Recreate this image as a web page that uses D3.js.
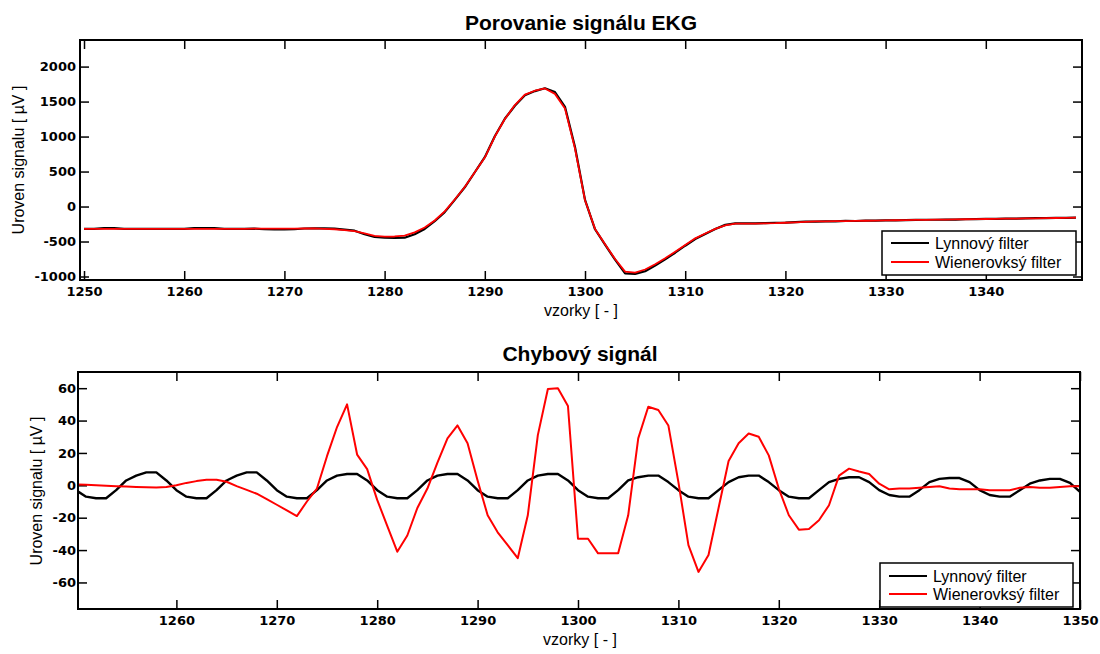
<!DOCTYPE html>
<html>
<head>
<meta charset="utf-8">
<script src="https://cdn.jsdelivr.net/npm/d3@7/dist/d3.min.js"></script>
<style>
  html, body { margin: 0; padding: 0; background: #fff; }
  svg { display: block; }
  .tick text { font-family: "DejaVu Sans", sans-serif; font-weight: bold; font-size: 13px; fill: #000; }
  .title { font-family: "Liberation Sans", Arial, sans-serif; font-weight: bold; font-size: 21px; }
  .alabel { font-family: "Liberation Sans", Arial, sans-serif; font-size: 16px; }
  .leg { font-family: "Liberation Sans", Arial, sans-serif; font-size: 16px; }
</style>
</head>
<body>
<svg id="chart" width="1100" height="654"></svg>
<script>
// ---------- DATA ----------
const startSample = 1250;
const seriesNames = ["Lynnový filter", "Wienerovksý filter"];
const seriesColors = ["#000000", "#ff0000"];

// Top panel: EKG signal [µV], samples 1250..1349
const ekgWiener = [
  -318,-318,-318,-319,-319,-320,-320,-320,-320,-320,
  -320,-320,-319,-319,-318,-318,-318,-317,-316,-316,
  -316,-315,-314,-313,-318,-325,-336,-352,-385,-418,
  -430,-428,-415,-370,-300,-200,-70,100,280,490,
  700,1000,1250,1450,1600,1655,1688,1610,1400,830,
  90,-320,-540,-750,-930,-945,-900,-825,-740,-645,
  -550,-455,-385,-320,-268,-245,-245,-243,-240,-238,
  -232,-225,-218,-213,-212,-210,-208,-205,-203,-200,
  -198,-196,-194,-192,-190,-188,-186,-184,-182,-180,
  -178,-176,-174,-172,-170,-168,-166,-164,-162,-158
];
const ekgLynn = [
  -318,-318,-310,-310,-319,-320,-320,-320,-320,-320,
  -320,-310,-310,-310,-318,-318,-318,-317,-325,-326,
  -326,-325,-314,-313,-312,-315,-330,-345,-395,-435,
  -445,-450,-445,-395,-320,-210,-80,95,275,490,
  705,1005,1255,1440,1590,1650,1690,1635,1425,850,
  95,-325,-545,-760,-955,-962,-925,-845,-755,-660,
  -560,-465,-392,-322,-262,-240,-242,-240,-236,-232,
  -230,-222,-215,-215,-211,-211,-206,-207,-201,-202,
  -197,-197,-193,-191,-189,-189,-185,-186,-182,-180,
  -177,-177,-173,-173,-170,-167,-166,-163,-161,-159
];

// Bottom panel: error signal [µV], samples 1250..1350
const errLynn = [
  -3,-7,-8,-8,-3,3,6,8,8,3,
  -3,-7,-8,-8,-3,3,6,8,8,3,
  -3,-7,-8,-8,-3,3,6,7,7,3,
  -3,-7,-8,-8,-3,3,6,7,7,3,
  -3,-7,-8,-8,-3,3,6,7,7,3,
  -3,-7,-8,-8,-3,3,5,6,6,2,
  -3,-7,-8,-8,-3,2,5,6,6,2,
  -3,-7,-8,-8,-3,2,4,5,5,2,
  -3,-6,-7,-7,-3,2,4,4.5,4.5,2,
  -3,-6,-7,-7,-3,1,3,4,4,1.5,
  -4
];
const errWiener = [
  0.5,0.3,0,-0.3,-0.6,-0.8,-1,-1.2,-1.4,-1,
  0,1.5,2.6,3.4,3.5,2.2,-0.5,-2.8,-5.2,-8.5,
  -12,-15.5,-19,-10,-2,18,36,50,19,10,
  -9,-25,-41,-31,-14,-2,14,29,37,26,
  3,-18.5,-29,-37,-45,-18.5,31,59.5,60,49,
  -33,-33,-42,-42,-42,-18.5,29,48.5,46.5,37,
  2,-37,-53.5,-43,-14,15,26,32,30,18.5,
  -2,-18.5,-27.4,-27,-21.6,-12.3,6,10.3,8.5,7,
  1,-2.5,-2,-2,-1.5,-1,-0.6,-2,-2.5,-2.5,
  -2.5,-3,-3,-3,-1.5,-1,-1.5,-1.5,-1,-0.6,
  -0.5
];

const topXTicks = [1250,1260,1270,1280,1290,1300,1310,1320,1330,1340];
const topYTicks = [-1000,-500,0,500,1000,1500,2000];
const botXTicks = [1260,1270,1280,1290,1300,1310,1320,1330,1340,1350];
const botYTicks = [-60,-40,-20,0,20,40,60];

// ---------- DRAW ----------
const svg = d3.select("#chart");

function panel(cfg) {
  const g = svg.append("g");
  const x = d3.scaleLinear().domain(cfg.xDomain).range([cfg.left, cfg.right]);
  const y = d3.scaleLinear().domain(cfg.yDomain).range([cfg.bottom, cfg.top]);
  const w = cfg.right - cfg.left, h = cfg.bottom - cfg.top;

  const clipId = "clip" + cfg.id;
  svg.append("defs").append("clipPath").attr("id", clipId)
    .append("rect").attr("x", cfg.left).attr("y", cfg.top).attr("width", w).attr("height", h);

  // axes (inward ticks, matlab box)
  const tk = 9;
  const ax = (sel) => { sel.select(".domain").remove(); sel.selectAll(".tick line").attr("stroke", "#000").attr("stroke-width", 1.5); };
  g.append("g").attr("transform", `translate(0,${cfg.bottom})`)
    .call(d3.axisBottom(x).tickValues(cfg.xTicks).tickSize(-tk).tickPadding(7).tickFormat(d3.format("d")))
    .call(ax);
  g.append("g").attr("transform", `translate(0,${cfg.top})`)
    .call(d3.axisTop(x).tickValues(cfg.xTicks).tickSize(-tk).tickFormat(""))
    .call(ax);
  g.append("g").attr("transform", `translate(${cfg.left},0)`)
    .call(d3.axisLeft(y).tickValues(cfg.yTicks).tickSize(-tk).tickPadding(cfg.yPad).tickFormat(d3.format("d")))
    .call(ax);
  g.append("g").attr("transform", `translate(${cfg.right},0)`)
    .call(d3.axisRight(y).tickValues(cfg.yTicks).tickSize(-tk).tickFormat(""))
    .call(ax);
  g.selectAll(".tick text").text(function(){ return this.textContent.replace("−", "-"); });

  // lines
  const line = d3.line().x((d, i) => x(startSample + i)).y(d => y(d));
  const lg = g.append("g").attr("clip-path", `url(#${clipId})`);
  cfg.series.forEach((s, k) => {
    lg.append("path").datum(s).attr("d", line).attr("fill", "none")
      .attr("stroke", seriesColors[k]).attr("stroke-width", cfg.lw[k])
      .attr("stroke-linejoin", "round");
  });

  // frame
  g.append("rect").attr("x", cfg.left).attr("y", cfg.top).attr("width", w).attr("height", h)
    .attr("fill", "none").attr("stroke", "#000").attr("stroke-width", 2);

  // title, labels
  g.append("text").attr("class", "title").attr("x", cfg.titleX).attr("y", cfg.titleY)
    .attr("text-anchor", "middle").text(cfg.title);
  g.append("text").attr("class", "alabel").attr("x", cfg.titleX).attr("y", cfg.xlabY)
    .attr("text-anchor", "middle").text("vzorky [ - ]");
  g.append("text").attr("class", "alabel")
    .attr("transform", `translate(${cfg.ylabX},${cfg.ylabCY}) rotate(-90)`)
    .attr("text-anchor", "middle").text("Uroven signalu [ µV ]");

  // legend
  const L = cfg.legend;
  g.append("rect").attr("x", L.x).attr("y", L.y).attr("width", L.w).attr("height", L.h)
    .attr("fill", "#fff").attr("stroke", "#000").attr("stroke-width", 1.5);
  seriesNames.forEach((n, k) => {
    const ly = L.y + L.row0 + k * L.dy;
    g.append("line").attr("x1", L.x + 9).attr("x2", L.x + 47).attr("y1", ly).attr("y2", ly)
      .attr("stroke", seriesColors[k]).attr("stroke-width", 2);
    g.append("text").attr("class", "leg").attr("x", L.x + 53).attr("y", ly + 6).text(n);
  });
}

panel({
  id: "top", left: 80, right: 1082, top: 40, bottom: 280,
  xDomain: [1249.6, 1349.6], yDomain: [-1050, 2380],
  xTicks: topXTicks, yTicks: topYTicks, yPad: 4,
  series: [ekgLynn, ekgWiener], lw: [2.2, 1.8],
  title: "Porovanie signálu EKG", titleX: 581, titleY: 30, xlabY: 316,
  ylabX: 24, ylabCY: 160,
  legend: { x: 882, y: 231, w: 194, h: 44, row0: 12, dy: 19 }
});

panel({
  id: "bot", left: 78, right: 1080, top: 372, bottom: 609,
  xDomain: [1250.2, 1350], yDomain: [-76.4, 70],
  xTicks: botXTicks, yTicks: botYTicks, yPad: 2,
  series: [errLynn, errWiener], lw: [2.4, 2],
  title: "Chybový signál", titleX: 580, titleY: 361, xlabY: 645,
  ylabX: 42, ylabCY: 491,
  legend: { x: 880, y: 563, w: 193, h: 44, row0: 13, dy: 18 }
});
</script>
</body>
</html>
